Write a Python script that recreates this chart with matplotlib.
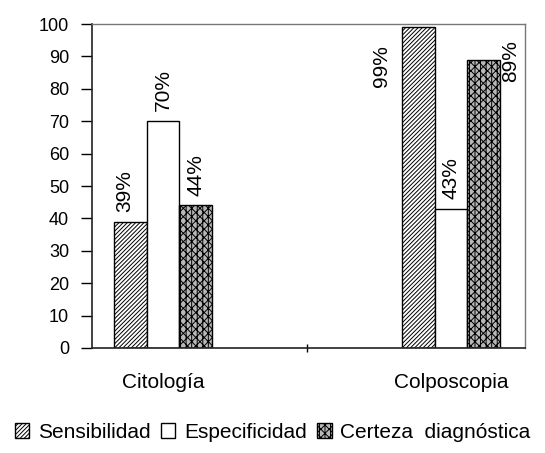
import matplotlib
matplotlib.use("Agg")
import matplotlib.pyplot as plt
import numpy as np

plt.rcParams['font.family'] = ['Liberation Sans', 'DejaVu Sans']
plt.rcParams['hatch.linewidth'] = 0.7

# data
categories = ['Citología', 'Colposcopia']
series = ['Sensibilidad', 'Especificidad', 'Certeza  diagnóstica']
sensibilidad = [39, 99]
especificidad = [70, 43]
certeza = [44, 89]
yticks = [0, 10, 20, 30, 40, 50, 60, 70, 80, 90, 100]

fig = plt.figure(figsize=(5.45, 4.53), dpi=100)
ax = fig.add_axes([0.1688, 0.2318, 0.7945, 0.7152])

x = np.arange(len(categories))
w = 0.113
styles = [('white', '////////'), ('white', ''), ('#b8b8b8', 'xxxx|||')]
bars = []
for i, (vals, (fc, hatch)) in enumerate(zip([sensibilidad, especificidad, certeza], styles)):
    b = ax.bar(x + (i - 1) * w, vals, w, color=fc, edgecolor='black',
               hatch=hatch, linewidth=1.0, label=series[i])
    bars.append(b)

# value labels
for i, vals in enumerate([sensibilidad, especificidad, certeza]):
    for j, v in enumerate(vals):
        xc = x[j] + (i - 1) * w
        if v > 85 and i == 0:
            ax.text(xc - 1.15 * w, v - 5.5, f'{v}%', rotation=90, ha='center', va='top', fontsize=15)
        elif v > 85 and i == 2:
            ax.text(xc + 0.82 * w, v + 6, f'{v}%', rotation=90, ha='center', va='top', fontsize=15)
        else:
            ax.text(xc - (0.02 if i == 0 else 0), v + 3, f'{v}%', rotation=90, ha='center', va='bottom', fontsize=15)

ax.set_ylim(0, 100)
ax.set_xlim(-0.2465, 1.257)
ax.set_yticks(yticks)
ax.set_yticklabels([str(t) for t in yticks], fontsize=13)
ax.tick_params(axis='y', direction='out', length=8, width=1, pad=8.5)
ax.set_xticks(x)
ax.set_xticklabels(categories, fontsize=15)
ax.tick_params(axis='x', which='major', length=0, pad=18)
ax.set_xticks([0.5], minor=True)
ax.tick_params(axis='x', which='minor', direction='inout', length=6, width=1)

for s in ['left', 'bottom']:
    ax.spines[s].set_color('#222222')
    ax.spines[s].set_linewidth(1.2)
for s in ['top', 'right']:
    ax.spines[s].set_color('#777777')
    ax.spines[s].set_linewidth(1.0)

leg = fig.legend(handles=[b[0] for b in bars], labels=series, loc='center',
                 bbox_to_anchor=(0.5, 1 - 432 / 453), ncol=3, frameon=False,
                 fontsize=15, handlelength=0.7, handleheight=0.7,
                 handletextpad=0.4, columnspacing=0.5, borderaxespad=0)

fig.savefig('out.png', dpi=100)
